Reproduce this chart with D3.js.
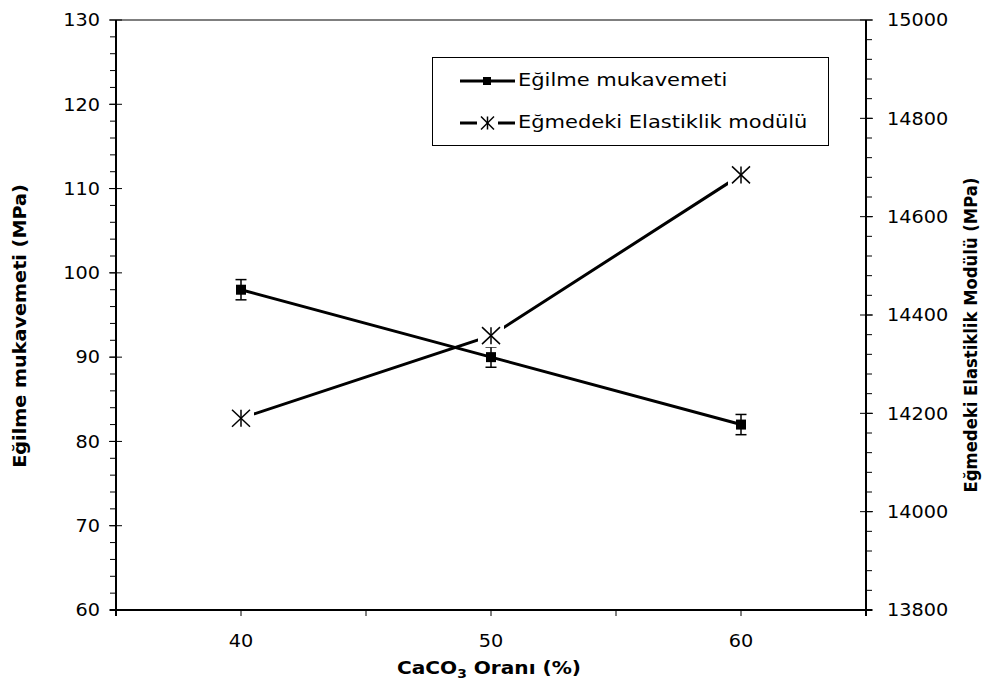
<!DOCTYPE html>
<html>
<head>
<meta charset="utf-8">
<script src="https://cdn.jsdelivr.net/npm/d3@7/dist/d3.min.js"></script>
<style>
  html, body { margin: 0; padding: 0; background: #fff; }
  svg { display: block; font-family: "DejaVu Sans", "Liberation Sans", Arial, sans-serif; }
</style>
</head>
<body>
<svg id="chart" width="984" height="686"></svg>
<script>
// CaCO3 ratio (%) on the x axis
const oran = [40, 50, 60];
// Flexural strength (MPa), left axis, with error bars
const egilme = [98, 90, 82];
const egilmeHata = [1.2, 1.2, 1.2];
// Flexural modulus of elasticity (MPa), right axis
const elastik = [14190, 14358, 14685];

const xTicks = [35, 40, 45, 50, 55, 60, 65];
const xLabels = [40, 50, 60];
const yLeftTicks = [60, 70, 80, 90, 100, 110, 120, 130];
const yRightTicks = [13800, 14000, 14200, 14400, 14600, 14800, 15000];

const svg = d3.select("#chart");
const L = 116, R = 866, T = 20, B = 610;

const x = d3.scaleLinear().domain([35, 65]).range([L, R]);
const yL = d3.scaleLinear().domain([60, 130]).range([B, T]);
const yR = d3.scaleLinear().domain([13800, 15000]).range([B, T]);

// text with an adjustable horizontal width
function label(g, tx, ty, str, opts) {
  const o = Object.assign({ size: 17.5, sx: 1.1, anchor: "start", rot: 0, bold: false, dy: "0.36em" }, opts);
  const t = g.append("text")
    .attr("transform", `translate(${tx},${ty}) rotate(${o.rot}) scale(${o.sx},1)`)
    .attr("text-anchor", o.anchor).attr("dy", o.dy)
    .attr("font-size", o.size).attr("font-weight", o.bold ? "bold" : "normal");
  if (str !== null) t.text(str);
  return t;
}

// frame: top border
svg.append("line").attr("x1", L).attr("x2", R).attr("y1", T).attr("y2", T)
  .attr("stroke", "#000").attr("stroke-width", 1.2);

// left axis
const gL = svg.append("g");
gL.append("line").attr("x1", L).attr("x2", L).attr("y1", T).attr("y2", B + 6)
  .attr("stroke", "#000").attr("stroke-width", 2);
gL.selectAll(".minor").data(d3.range(60, 130.01, 2)).join("line")
  .attr("x1", L - 6).attr("x2", L).attr("y1", d => yL(d)).attr("y2", d => yL(d))
  .attr("stroke", "#000").attr("stroke-width", 1);
gL.selectAll(".major").data(yLeftTicks).join("line")
  .attr("x1", L - 7).attr("x2", L + 6).attr("y1", d => yL(d)).attr("y2", d => yL(d))
  .attr("stroke", "#000").attr("stroke-width", 1);
yLeftTicks.forEach(d => label(gL, L - 16, yL(d), d, { anchor: "end" }));

// right axis
const gR = svg.append("g");
gR.append("line").attr("x1", R).attr("x2", R).attr("y1", T).attr("y2", B + 6)
  .attr("stroke", "#000").attr("stroke-width", 2);
gR.selectAll(".minor").data(d3.range(13800, 15000.01, 40)).join("line")
  .attr("x1", R).attr("x2", R + 6).attr("y1", d => yR(d)).attr("y2", d => yR(d))
  .attr("stroke", "#000").attr("stroke-width", 1);
gR.selectAll(".major").data(yRightTicks).join("line")
  .attr("x1", R - 6).attr("x2", R + 7).attr("y1", d => yR(d)).attr("y2", d => yR(d))
  .attr("stroke", "#000").attr("stroke-width", 1);
yRightTicks.forEach(d => label(gR, R + 21, yR(d), d, { anchor: "start" }));

// bottom axis
const gB = svg.append("g");
gB.append("line").attr("x1", L - 6).attr("x2", R + 6).attr("y1", B).attr("y2", B)
  .attr("stroke", "#000").attr("stroke-width", 2);
gB.selectAll(".tick").data(xTicks).join("line")
  .attr("x1", d => x(d)).attr("x2", d => x(d)).attr("y1", B).attr("y2", B + 6)
  .attr("stroke", "#000").attr("stroke-width", 1);
xLabels.forEach(d => label(gB, x(d), B + 31, d, { anchor: "middle" }));

// axis titles
label(svg, 26, 326, "Eğilme mukavemeti (MPa)",
  { anchor: "middle", rot: -90, bold: true, dy: 0, sx: 1.1 });
label(svg, 977, 335, "Eğmedeki Elastiklik Modülü (MPa)",
  { anchor: "middle", rot: -90, bold: true, dy: 0, sx: 0.94 });
const xt = label(svg, (L + R) / 2 - 2, 674, null, { anchor: "middle", bold: true, dy: 0, sx: 1.15 });
xt.append("tspan").text("CaCO");
xt.append("tspan").attr("font-size", 12).attr("dy", 4).text("3");
xt.append("tspan").attr("dy", -4).text(" Oranı (%)");

// data rows
const dStr = oran.map((o, i) => ({ x: o, y: egilme[i], e: egilmeHata[i] }));
const dMod = oran.map((o, i) => ({ x: o, y: elastik[i] }));

// strength series
svg.append("path").datum(dStr)
  .attr("d", d3.line().x(d => x(d.x)).y(d => yL(d.y)))
  .attr("fill", "none").attr("stroke", "#000").attr("stroke-width", 3);

const eb = svg.append("g").selectAll("g").data(dStr).join("g");
eb.append("line").attr("x1", d => x(d.x)).attr("x2", d => x(d.x))
  .attr("y1", d => yL(d.y - d.e)).attr("y2", d => yL(d.y + d.e))
  .attr("stroke", "#000").attr("stroke-width", 1.5);
eb.append("line").attr("x1", d => x(d.x) - 5.5).attr("x2", d => x(d.x) + 5.5)
  .attr("y1", d => yL(d.y + d.e)).attr("y2", d => yL(d.y + d.e))
  .attr("stroke", "#000").attr("stroke-width", 1.5);
eb.append("line").attr("x1", d => x(d.x) - 5.5).attr("x2", d => x(d.x) + 5.5)
  .attr("y1", d => yL(d.y - d.e)).attr("y2", d => yL(d.y - d.e))
  .attr("stroke", "#000").attr("stroke-width", 1.5);
eb.append("rect").attr("x", d => x(d.x) - 5).attr("y", d => yL(d.y) - 5)
  .attr("width", 10).attr("height", 10).attr("fill", "#000");

// modulus series
svg.append("path").datum(dMod)
  .attr("d", d3.line().x(d => x(d.x)).y(d => yR(d.y)))
  .attr("fill", "none").attr("stroke", "#000").attr("stroke-width", 3);

// six-armed star marker on a white backing
function star(g, cx, cy, w, h) {
  g.append("rect").attr("x", cx - w - 4).attr("y", cy - h - 3)
    .attr("width", 2 * w + 8).attr("height", 2 * h + 6).attr("fill", "#fff");
  const s = g.append("g").attr("stroke", "#000").attr("stroke-width", 1.5);
  s.append("line").attr("x1", cx).attr("x2", cx).attr("y1", cy - h).attr("y2", cy + h);
  s.append("line").attr("x1", cx - w).attr("x2", cx + w).attr("y1", cy - h).attr("y2", cy + h);
  s.append("line").attr("x1", cx - w).attr("x2", cx + w).attr("y1", cy + h).attr("y2", cy - h);
}
const gs = svg.append("g");
dMod.forEach(d => star(gs, x(d.x), yR(d.y), 9, 8.5));

// legend
const lg = svg.append("g");
lg.append("rect").attr("x", 432.5).attr("y", 57.5).attr("width", 396).attr("height", 88)
  .attr("fill", "#fff").attr("stroke", "#000").attr("stroke-width", 1);
lg.append("line").attr("x1", 460).attr("x2", 515).attr("y1", 81).attr("y2", 81)
  .attr("stroke", "#000").attr("stroke-width", 3);
lg.append("rect").attr("x", 483).attr("y", 77).attr("width", 8).attr("height", 8).attr("fill", "#000");
label(lg, 518, 80, "Eğilme mukavemeti", { sx: 1.2 });
lg.append("line").attr("x1", 460).attr("x2", 515).attr("y1", 123).attr("y2", 123)
  .attr("stroke", "#000").attr("stroke-width", 3);
star(lg, 487.5, 123, 6.5, 6.5);
label(lg, 518, 122, "Eğmedeki Elastiklik modülü", { sx: 1.2 });
</script>
</body>
</html>
